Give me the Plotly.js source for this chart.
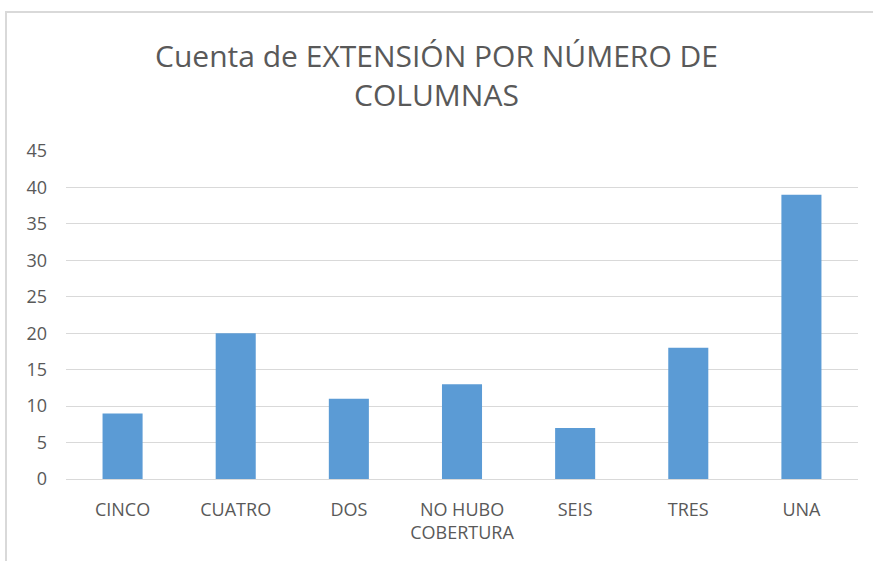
<!DOCTYPE html>
<html>
<head>
<meta charset="utf-8">
<script src="https://cdn.plot.ly/plotly-3.0.1.min.js"></script>
<style>
  html, body { margin: 0; padding: 0; background: #fff; }
  #chart { width: 873px; height: 561px; position: relative; }
  /* marco gris del gráfico (estilo Excel) */
  #frame {
    position: absolute; left: 5px; top: 11px; width: 880px; height: 560px;
    border-top: 2px solid #d9d9d9; border-left: 2px solid #d9d9d9;
    pointer-events: none; z-index: 5;
  }
</style>
</head>
<body>
<div id="chart"><div id="frame"></div></div>
<script>
// Datos del gráfico
const categorias = ['CINCO', 'CUATRO', 'DOS', 'NO HUBO<br>COBERTURA', 'SEIS', 'TRES', 'UNA'];
const cuentas = [9, 20, 11, 13, 7, 18, 39];
const ticksY = [0, 5, 10, 15, 20, 25, 30, 35, 40, 45];

const traza = {
    x: categorias,
    y: cuentas,
    type: 'bar',
    marker: { color: '#5b9bd5' },
    hoverinfo: 'x+y'
};

const layout = {
    width: 873,
    height: 561,
    paper_bgcolor: '#ffffff',
    plot_bgcolor: '#ffffff',
    font: { family: 'Open Sans, sans-serif', color: '#595959' },
    title: {
        text: 'Cuenta de EXTENSIÓN POR NÚMERO DE<br>COLUMNAS',
        font: { size: 30, color: '#595959', family: 'Open Sans, sans-serif' },
        x: 0.5, xanchor: 'center',
        xref: 'container', yref: 'container',
        y: 0.88, yanchor: 'middle'
    },
    margin: { l: 66, r: 15, t: 151, b: 82 },
    bargap: 0.646,
    showlegend: false,
    xaxis: {
        type: 'category',
        tickfont: { size: 18, color: '#595959' },
        showgrid: false,
        showline: true,
        linecolor: '#d9d9d9',
        linewidth: 1,
        ticks: '',
        ticklabelstandoff: 14
    },
    yaxis: {
        range: [0, 45],
        tickvals: ticksY,
        tickfont: { size: 18, color: '#595959' },
        showgrid: true,
        gridcolor: '#d9d9d9',
        gridwidth: 1,
        zeroline: false,
        showline: false,
        ticks: '',
        ticklabelstandoff: 18
    }
};

Plotly.newPlot('chart', [traza], layout, { displayModeBar: false, responsive: false });
</script>
</body>
</html>
